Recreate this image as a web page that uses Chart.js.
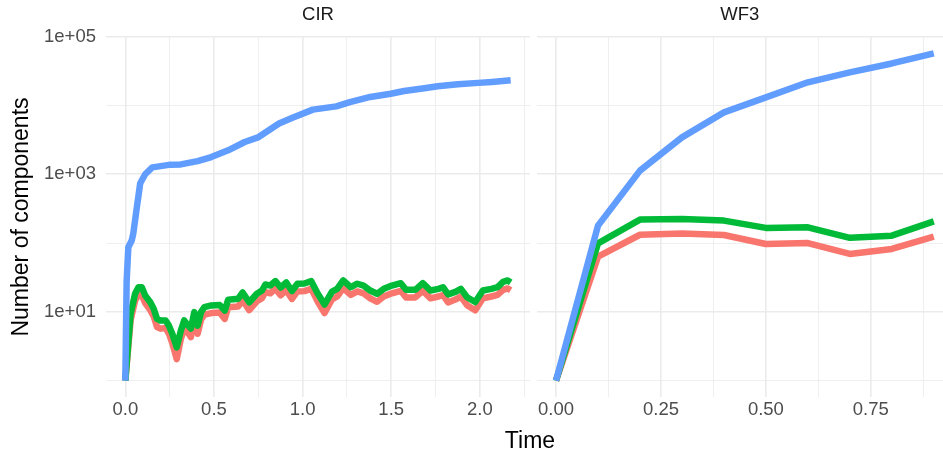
<!DOCTYPE html>
<html>
<head>
<meta charset="utf-8">
<script src="https://cdn.jsdelivr.net/npm/chart.js@4"></script>
<style>
  body { margin: 0; background: #fff; font-family: "Liberation Sans", Arial, sans-serif; }
  #wrap { position: relative; width: 943px; height: 454px; overflow: hidden; }
  #cirBox { position: absolute; left: 0; top: 0; }
  #wf3Box { position: absolute; left: 536px; top: 0; }
  #xTitle { position: absolute; left: 430px; width: 200px; top: 426px; text-align: center;
            font-size: 23px; color: #000; line-height: 28px; }
</style>
</head>
<body>
<div id="wrap">
  <div id="cirBox"><canvas id="cirChart" width="530" height="454"></canvas></div>
  <div id="wf3Box"><canvas id="wf3Chart" width="407" height="454"></canvas></div>
  <div id="xTitle">Time</div>
</div>
<script>
// ----------------------------
// DATA
// ----------------------------
const panelNames = ["CIR", "WF3"];
const colors = { blue: "#619CFF", green: "#00BA38", red: "#F8766D" };

// CIR panel
const cirBlueTime = [0, 0.0075, 0.017, 0.036, 0.045, 0.065, 0.084, 0.112, 0.152, 0.255,
  0.313, 0.408, 0.485, 0.58, 0.674, 0.752, 0.867, 0.943, 1.058, 1.19,
  1.267, 1.382, 1.497, 1.573, 1.687, 1.762, 1.876, 1.991, 2.069, 2.174];
const cirBlue = [1, 28, 87, 109, 138, 330, 740, 1000, 1260, 1380,
  1390, 1550, 1780, 2230, 2940, 3470, 5460, 6620, 8700, 9700,
  11200, 13300, 14800, 16200, 17800, 19000, 20300, 21300, 22000, 23200];

const cirTime = [0, 0.030, 0.055, 0.074, 0.093, 0.112, 0.141, 0.160, 0.179, 0.198,
  0.227, 0.246, 0.265, 0.290, 0.313, 0.332, 0.355, 0.370, 0.389, 0.408,
  0.427, 0.446, 0.485, 0.532, 0.561, 0.580, 0.637, 0.662, 0.699, 0.742,
  0.771, 0.790, 0.818, 0.847, 0.876, 0.908, 0.940, 0.971, 1.010, 1.049,
  1.086, 1.124, 1.166, 1.195, 1.229, 1.272, 1.309, 1.344, 1.382, 1.420,
  1.458, 1.504, 1.554, 1.584, 1.636, 1.678, 1.722, 1.767, 1.792, 1.821,
  1.865, 1.893, 1.928, 1.974, 2.017, 2.065, 2.100, 2.131, 2.157, 2.174];
const cirGreen = [1, 9.4, 18.3, 22.8, 22.8, 17.3, 13.8, 11.1, 7.9, 7.5,
  7.5, 6.3, 4.8, 3.05, 5.3, 7.5, 6.3, 5.7, 9.9, 6.3,
  9.9, 11.7, 12.4, 12.6, 10.4, 15, 15.5, 19.1, 13.8, 18.3,
  20.4, 25, 24.1, 28, 22.6, 26.7, 20.1, 25.6, 25.8, 27.9,
  18.3, 12.8, 19.7, 21.6, 28.6, 22.8, 25.6, 24.1, 20.4, 18.3,
  21.6, 24.1, 26.1, 20.9, 20.9, 26.1, 20.4, 21.6, 22.8, 17.9,
  19.7, 21.6, 16.3, 13.9, 20.4, 21.6, 22.8, 27.2, 28.6, 26.7];
const cirRed = [1, 7.6, 14.5, 17.8, 17.5, 13.4, 10.6, 8.6, 6.0, 5.7,
  5.8, 4.8, 3.5, 2.05, 4.0, 5.8, 4.9, 4.3, 7.6, 4.8,
  7.7, 9.1, 9.6, 9.8, 7.9, 11.7, 12.0, 14.8, 10.6, 14.2,
  15.8, 19.4, 18.6, 21.7, 17.4, 20.6, 15.4, 19.8, 20.0, 21.6,
  14.0, 9.6, 15.2, 16.7, 22.1, 17.6, 19.8, 18.6, 15.7, 14.0,
  16.7, 18.6, 20.2, 16.1, 16.2, 20.2, 15.7, 16.7, 17.6, 13.7,
  15.2, 16.7, 12.5, 10.5, 15.7, 16.7, 17.6, 20.8, 21.9, 20.6];

// WF3 panel
const wf3Time = [0, 0.1, 0.2, 0.3, 0.4, 0.5, 0.6, 0.7, 0.8, 0.9];
const wf3Blue = [1, 179, 1130, 3440, 7940, 13100, 21700, 30300, 40800, 57200];
const wf3Green = [1, 99, 219, 224, 212, 166, 169, 119, 128, 207];
const wf3Red = [1, 63.5, 132, 138, 131, 97, 100, 69.5, 82, 124];

// ticks
const yTicks = [1, 10, 100, 1000, 10000, 100000];
const yLabels = { 10: "1e+01", 1000: "1e+03", 100000: "1e+05" };
const cirXTicks = [0, 0.25, 0.5, 0.75, 1, 1.25, 1.5, 1.75, 2, 2.25];
const cirXLabels = { 0: "0.0", 0.5: "0.5", 1: "1.0", 1.5: "1.5", 2: "2.0" };
const wf3XTicks = [0, 0.125, 0.25, 0.375, 0.5, 0.625, 0.75, 0.875];
const wf3XLabels = { 0: "0.00", 0.25: "0.25", 0.5: "0.50", 0.75: "0.75" };

// ----------------------------
// HELPERS
// ----------------------------
const FONT = "'Liberation Sans', Arial, sans-serif";
const GRID = "#EBEBEB";

const pts = (xs, ys) => xs.map((x, i) => ({ x, y: ys[i] }));

function line(label, data, color) {
  return {
    label,
    data,
    borderColor: color,
    backgroundColor: color,
    borderWidth: 6.5,
    pointRadius: 0,
    tension: 0,
    borderJoinStyle: "round",
    borderCapStyle: "butt"
  };
}

function gridWidth(labels) {
  return ctx => (ctx.tick && labels[ctx.tick.value] !== undefined) ? 1.6 : 0.8;
}

function buildPanel(canvas, { title, datasets, xMin, xMax, xTicks, xLabels, showY }) {
  return new Chart(canvas, {
    type: "line",
    data: { datasets },
    options: {
      responsive: false,
      animation: false,
      devicePixelRatio: 1,
      layout: { padding: 0 },
      plugins: { legend: { display: false }, tooltip: { enabled: false } },
      scales: {
        x: {
          type: "linear",
          position: "bottom",
          min: xMin,
          max: xMax,
          afterBuildTicks: s => { s.ticks = xTicks.map(v => ({ value: v })); },
          afterFit: s => { s.height = 57; },
          border: { display: false },
          grid: { color: GRID, lineWidth: gridWidth(xLabels), drawTicks: false },
          ticks: {
            autoSkip: false,
            maxRotation: 0,
            padding: 2,
            color: "#4D4D4D",
            font: { family: FONT, size: 18.5 },
            callback: v => xLabels[v] !== undefined ? xLabels[v] : ""
          }
        },
        strip: {
          type: "linear",
          axis: "x",
          position: "top",
          afterFit: s => { s.height = 37; },
          border: { display: false },
          grid: { display: false, drawTicks: false },
          ticks: { display: false },
          title: {
            display: true,
            text: title,
            color: "#1A1A1A",
            font: { family: FONT, size: 18.5 },
            padding: { top: 4, bottom: 0 }
          }
        },
        y: {
          type: "logarithmic",
          position: "left",
          min: 0.578,
          max: 98900,
          afterBuildTicks: s => { s.ticks = yTicks.map(v => ({ value: v })); },
          afterFit: s => { s.width = showY ? 106 : 0; },
          border: { display: false },
          grid: { color: GRID, lineWidth: gridWidth(yLabels), drawTicks: false },
          ticks: {
            display: showY,
            autoSkip: false,
            padding: 10,
            color: "#4D4D4D",
            font: { family: FONT, size: 18.5 },
            callback: v => yLabels[v] !== undefined ? yLabels[v] : ""
          },
          title: {
            display: showY,
            text: "Number of components",
            color: "#000",
            font: { family: FONT, size: 23 },
            padding: { top: 8, bottom: 0 }
          }
        }
      }
    }
  });
}

// ----------------------------
// PANELS
// ----------------------------
buildPanel(document.getElementById("cirChart"), {
  title: panelNames[0],
  datasets: [
    line("blue", pts(cirBlueTime, cirBlue), colors.blue),
    line("green", pts(cirTime, cirGreen), colors.green),
    line("red", pts(cirTime, cirRed), colors.red)
  ],
  xMin: -0.109,
  xMax: 2.283,
  xTicks: cirXTicks,
  xLabels: cirXLabels,
  showY: true
});

buildPanel(document.getElementById("wf3Chart"), {
  title: panelNames[1],
  datasets: [
    line("blue", pts(wf3Time, wf3Blue), colors.blue),
    line("green", pts(wf3Time, wf3Green), colors.green),
    line("red", pts(wf3Time, wf3Red), colors.red)
  ],
  xMin: -0.046,
  xMax: 0.922,
  xTicks: wf3XTicks,
  xLabels: wf3XLabels,
  showY: false
});
</script>
</body>
</html>
